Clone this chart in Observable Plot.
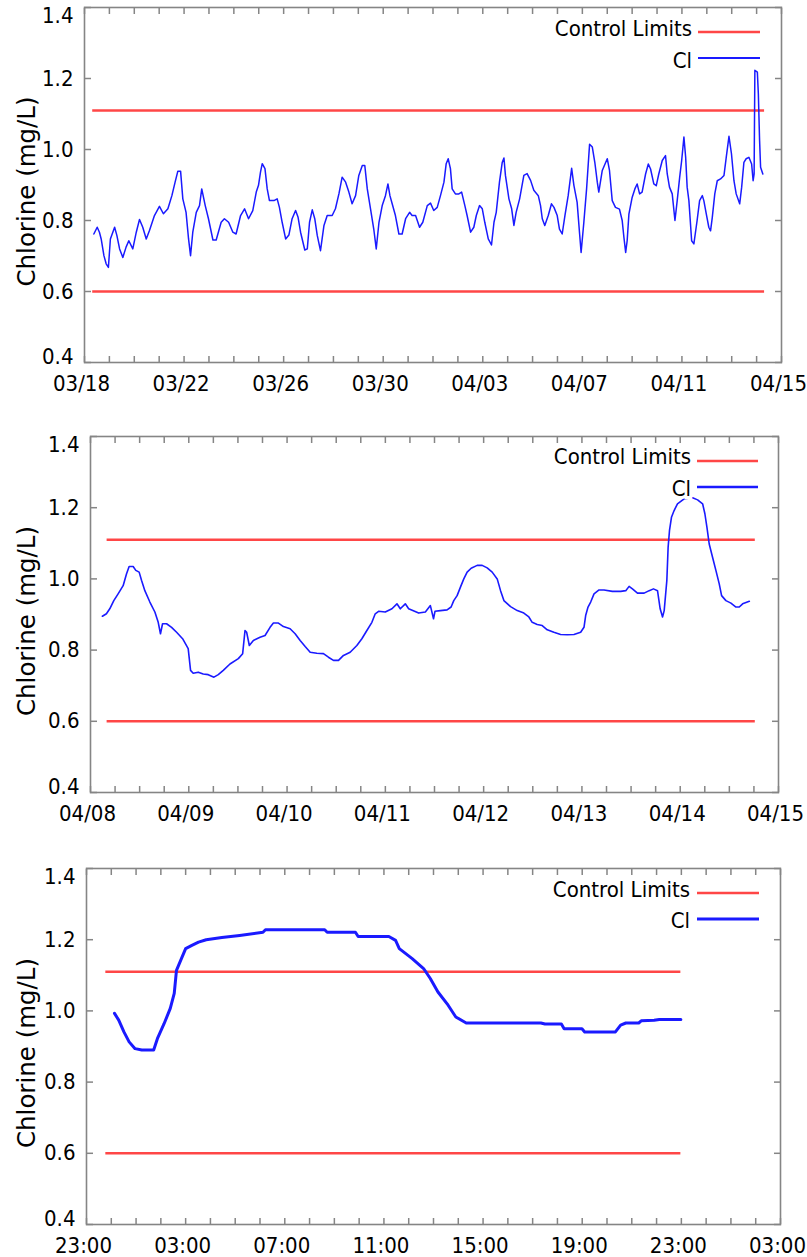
<!DOCTYPE html>
<html><head><meta charset="utf-8">
<script src="https://cdn.jsdelivr.net/npm/d3@7"></script>
<script src="https://cdn.jsdelivr.net/npm/@observablehq/plot@0.6"></script>
<style>
body{margin:0;background:#fff;}
#wrap{position:relative;width:807px;height:1257px;overflow:hidden;background:#fff}
.panel{position:absolute;left:0}
</style></head><body><div id="wrap"></div>
<script>
// ---------------- DATA ----------------
const controlLimits = [0.6, 1.11];
const yTickValues = [0.4, 0.6, 0.8, 1.0, 1.2, 1.4];
const legendLabels = ["Control Limits", "Cl"];

// Panel 1: days since 03/18, chlorine mg/L
const p1XLabels = ["03/18","03/22","03/26","03/30","04/03","04/07","04/11","04/15"];
const p1LimitSpan = [0.33, 27.32];
const p1Cl = [
[0.375,0.762],[0.51,0.781],[0.60,0.767],[0.67,0.748],[0.78,0.701],[0.87,0.678],[0.96,0.668],[1.04,0.748],[1.21,0.781],[1.30,0.758],[1.41,0.720],[1.54,0.696],[1.67,0.725],[1.78,0.743],[1.94,0.720],[2.08,0.767],[2.21,0.803],[2.34,0.781],[2.48,0.748],[2.61,0.772],[2.81,0.814],[3.01,0.840],[3.17,0.819],[3.35,0.833],[3.51,0.870],[3.64,0.908],[3.75,0.939],[3.86,0.939],[3.95,0.861],[4.08,0.823],[4.18,0.748],[4.26,0.701],[4.35,0.767],[4.49,0.823],[4.62,0.842],[4.71,0.889],[4.85,0.842],[4.98,0.805],[5.16,0.745],[5.29,0.745],[5.49,0.795],[5.62,0.805],[5.79,0.795],[5.96,0.767],[6.09,0.762],[6.27,0.814],[6.43,0.833],[6.59,0.805],[6.76,0.828],[6.90,0.880],[6.99,0.899],[7.07,0.936],[7.14,0.960],[7.25,0.946],[7.34,0.889],[7.43,0.856],[7.61,0.856],[7.74,0.861],[7.83,0.837],[7.94,0.795],[8.08,0.748],[8.21,0.759],[8.34,0.805],[8.48,0.828],[8.58,0.809],[8.68,0.767],[8.85,0.717],[8.95,0.720],[9.04,0.795],[9.15,0.830],[9.25,0.805],[9.35,0.758],[9.48,0.715],[9.62,0.786],[9.75,0.814],[9.95,0.814],[10.08,0.833],[10.22,0.875],[10.35,0.922],[10.49,0.908],[10.62,0.880],[10.75,0.847],[10.89,0.870],[11.02,0.927],[11.16,0.955],[11.26,0.955],[11.36,0.889],[11.49,0.833],[11.62,0.776],[11.72,0.720],[11.83,0.795],[11.96,0.842],[12.09,0.870],[12.19,0.903],[12.27,0.870],[12.36,0.847],[12.49,0.814],[12.63,0.762],[12.76,0.762],[12.90,0.805],[13.06,0.823],[13.16,0.814],[13.30,0.814],[13.46,0.781],[13.59,0.795],[13.77,0.842],[13.90,0.849],[14.03,0.828],[14.17,0.837],[14.30,0.870],[14.44,0.908],[14.53,0.960],[14.61,0.974],[14.70,0.946],[14.77,0.889],[14.90,0.875],[15.04,0.875],[15.15,0.880],[15.28,0.842],[15.37,0.814],[15.51,0.767],[15.64,0.781],[15.74,0.814],[15.87,0.842],[15.98,0.833],[16.08,0.795],[16.22,0.748],[16.35,0.731],[16.45,0.795],[16.54,0.823],[16.67,0.908],[16.78,0.963],[16.85,0.976],[16.91,0.927],[17.05,0.861],[17.16,0.833],[17.25,0.786],[17.34,0.823],[17.48,0.861],[17.65,0.927],[17.78,0.932],[17.92,0.913],[18.05,0.885],[18.23,0.870],[18.32,0.842],[18.39,0.805],[18.49,0.786],[18.63,0.814],[18.76,0.847],[18.86,0.837],[18.99,0.814],[19.08,0.776],[19.19,0.762],[19.30,0.814],[19.43,0.870],[19.57,0.947],[19.66,0.899],[19.79,0.851],[19.89,0.762],[19.95,0.710],[20.06,0.795],[20.17,0.889],[20.29,1.015],[20.40,1.007],[20.50,0.964],[20.60,0.908],[20.66,0.880],[20.80,0.941],[21.00,0.974],[21.09,0.941],[21.20,0.856],[21.33,0.837],[21.49,0.832],[21.60,0.800],[21.67,0.752],[21.74,0.710],[21.80,0.743],[21.87,0.818],[22.00,0.865],[22.11,0.889],[22.20,0.903],[22.30,0.875],[22.40,0.880],[22.54,0.931],[22.65,0.959],[22.74,0.945],[22.87,0.903],[22.97,0.898],[23.07,0.931],[23.21,0.969],[23.34,0.983],[23.41,0.931],[23.50,0.894],[23.61,0.875],[23.72,0.800],[23.81,0.856],[23.91,0.922],[23.99,0.969],[24.08,1.035],[24.15,0.978],[24.21,0.894],[24.28,0.856],[24.39,0.743],[24.48,0.734],[24.61,0.800],[24.71,0.856],[24.82,0.870],[24.88,0.856],[24.98,0.818],[25.08,0.781],[25.15,0.771],[25.22,0.809],[25.32,0.875],[25.42,0.912],[25.55,0.917],[25.69,0.927],[25.78,0.978],[25.89,1.037],[25.99,0.988],[26.09,0.912],[26.18,0.875],[26.32,0.847],[26.40,0.894],[26.49,0.964],[26.58,0.974],[26.69,0.978],[26.80,0.959],[26.86,0.912],[26.90,0.931],[26.93,1.223],[27.03,1.218],[27.07,1.157],[27.12,1.025],[27.16,0.950],[27.25,0.931]
];

// Panel 2: days since 04/08
const p2XLabels = ["04/08","04/09","04/10","04/11","04/12","04/13","04/14","04/15"];
const p2LimitSpan = [0.169, 6.764];
const p2Cl = [
[0.121,0.895],[0.162,0.902],[0.196,0.916],[0.237,0.939],[0.281,0.958],[0.332,0.981],[0.366,1.014],[0.393,1.035],[0.434,1.035],[0.461,1.024],[0.495,1.019],[0.519,0.996],[0.553,0.967],[0.604,0.935],[0.655,0.907],[0.689,0.878],[0.712,0.846],[0.733,0.874],[0.774,0.874],[0.825,0.864],[0.876,0.850],[0.937,0.832],[0.994,0.804],[1.018,0.743],[1.045,0.735],[1.096,0.738],[1.147,0.733],[1.198,0.731],[1.256,0.724],[1.300,0.731],[1.351,0.743],[1.419,0.761],[1.504,0.776],[1.548,0.790],[1.572,0.855],[1.589,0.850],[1.616,0.813],[1.657,0.827],[1.725,0.836],[1.776,0.841],[1.827,0.864],[1.861,0.876],[1.912,0.876],[1.963,0.866],[2.031,0.860],[2.082,0.846],[2.133,0.827],[2.184,0.810],[2.235,0.794],[2.303,0.791],[2.370,0.790],[2.421,0.780],[2.472,0.771],[2.523,0.771],[2.574,0.785],[2.642,0.794],[2.710,0.813],[2.761,0.832],[2.812,0.855],[2.863,0.878],[2.897,0.902],[2.931,0.909],[2.999,0.907],[3.067,0.916],[3.118,0.930],[3.152,0.916],[3.203,0.930],[3.237,0.916],[3.339,0.904],[3.407,0.907],[3.458,0.925],[3.490,0.888],[3.505,0.909],[3.560,0.911],[3.628,0.913],[3.669,0.921],[3.696,0.939],[3.730,0.953],[3.764,0.977],[3.798,1.000],[3.832,1.019],[3.873,1.030],[3.934,1.038],[3.985,1.038],[4.036,1.031],[4.087,1.019],[4.138,1.000],[4.172,0.967],[4.206,0.939],[4.274,0.922],[4.342,0.911],[4.409,0.904],[4.460,0.893],[4.494,0.878],[4.545,0.872],[4.596,0.869],[4.647,0.857],[4.715,0.850],[4.783,0.844],[4.851,0.843],[4.919,0.844],[4.987,0.850],[5.021,0.864],[5.038,0.897],[5.062,0.921],[5.089,0.935],[5.123,0.958],[5.174,0.969],[5.225,0.969],[5.310,0.965],[5.395,0.965],[5.446,0.967],[5.480,0.979],[5.514,0.972],[5.565,0.960],[5.633,0.960],[5.684,0.967],[5.728,0.972],[5.769,0.967],[5.796,0.916],[5.820,0.893],[5.837,0.911],[5.864,0.996],[5.877,1.089],[5.891,1.136],[5.911,1.173],[5.938,1.192],[5.972,1.211],[6.040,1.225],[6.126,1.228],[6.177,1.222],[6.228,1.211],[6.251,1.183],[6.272,1.145],[6.295,1.098],[6.329,1.061],[6.363,1.024],[6.397,0.986],[6.421,0.953],[6.465,0.939],[6.516,0.932],[6.567,0.921],[6.601,0.921],[6.635,0.930],[6.703,0.937]
];

// Panel 3: hours since 23:00
const p3XLabels = ["23:00","03:00","07:00","11:00","15:00","19:00","23:00","03:00"];
const p3LimitSpan = [0.78, 23.98];
const p3Cl = [
[1.13,0.993],[1.30,0.974],[1.51,0.941],[1.72,0.913],[1.96,0.894],[2.23,0.890],[2.71,0.890],[2.86,0.922],[3.13,0.964],[3.38,1.007],[3.54,1.049],[3.63,1.114],[3.80,1.142],[4.00,1.175],[4.25,1.184],[4.52,1.193],[4.83,1.200],[5.46,1.206],[6.18,1.212],[7.12,1.221],[7.22,1.228],[9.61,1.228],[9.71,1.221],[10.85,1.221],[10.96,1.209],[12.20,1.209],[12.47,1.198],[12.62,1.175],[13.14,1.147],[13.60,1.119],[13.87,1.091],[14.18,1.053],[14.59,1.016],[14.90,0.983],[15.32,0.966],[18.33,0.966],[18.50,0.963],[19.16,0.963],[19.27,0.950],[19.99,0.950],[20.10,0.941],[21.34,0.941],[21.55,0.960],[21.76,0.966],[22.28,0.966],[22.38,0.972],[22.90,0.974],[23.11,0.976],[23.98,0.976]
];

// ---------------- STYLE ----------------
const RED = "#ff4646", BLUE = "#1a1aff", FRAME = "#858585";
const COND = "'DejaVu Sans Condensed','Liberation Sans Narrow','Roboto Condensed','Open Sans',sans-serif";
const TITLEFONT = "'DejaVu Sans',Verdana,sans-serif";
const DAY = 864e5, HOUR = 36e5;

const panels = [
  {top:0, height:400, ml:84, mr:26, mt:7, mb:38, start:Date.UTC(2015,2,18), unit:DAY, xEnd:28,
   labels:p1XLabels, labelStep:4, tickStep:1, series:p1Cl, span:p1LimitSpan, lw:1.5, legLw:2.2,
   leg:{textX:692, cl:28, red:32, cl2:60, blue:58, x1:698, x2:760}},
  {top:415, height:420, ml:90, mr:29, mt:21, mb:43, start:Date.UTC(2015,3,8), unit:DAY, xEnd:7,
   labels:p2XLabels, labelStep:1, tickStep:0.25, series:p2Cl, span:p2LimitSpan, lw:1.6, legLw:2.4,
   leg:{textX:691, cl:41, red:46, cl2:73, blue:72, x1:697, x2:758}},
  {top:845, height:412, ml:86, mr:27, mt:23, mb:33, start:Date.UTC(2015,3,13,23), unit:HOUR, xEnd:28,
   labels:p3XLabels, labelStep:4, tickStep:1, series:p3Cl, span:p3LimitSpan, lw:3, legLw:3,
   leg:{textX:690, cl:44, red:48, cl2:75, blue:74, x1:697, x2:759}}
];

const wrap = document.getElementById("wrap");
for (const p of panels) {
  const toDate = u => new Date(p.start + u * p.unit);
  const data = p.series.map(([u, v]) => ({t: toDate(u), v}));
  const labelTicks = p.labels.map((s, i) => toDate(i * p.labelStep));
  const labelMap = new Map(labelTicks.map((d, i) => [+d, p.labels[i]]));
  const minor = d3.range(0, p.xEnd + 1e-9, p.tickStep).map(toDate);
  const midY = yTickValues.filter(v => v > 0.45 && v < 1.35);
  const blank = () => "";
  const x1 = toDate(p.span[0]), x2 = toDate(p.span[1]);
  const chart = Plot.plot({
    width: 807, height: p.height,
    marginLeft: p.ml, marginRight: p.mr, marginTop: p.mt, marginBottom: p.mb,
    style: {fontFamily: COND, fontSize: "22px", fontStretch: "condensed", color: "#000", background: "transparent", overflow: "visible"},
    x: {type: "utc", domain: [toDate(0), toDate(p.xEnd)]},
    y: {domain: [0.4, 1.4]},
    marks: [
      Plot.ruleY(controlLimits, {x1: () => x1, x2: () => x2, stroke: RED, strokeWidth: 2.6}),
      Plot.line(data, {x: "t", y: "v", stroke: BLUE, strokeWidth: p.lw, strokeLinejoin: "round"}),
      Plot.axisX({anchor: "bottom", ticks: minor, tickSize: -6, tickFormat: blank, label: null, stroke: FRAME, strokeWidth: 1.5}),
      Plot.axisX({anchor: "top", ticks: minor, tickSize: -6, tickFormat: blank, label: null, stroke: FRAME, strokeWidth: 1.5}),
      Plot.axisX({anchor: "bottom", ticks: labelTicks, tickSize: 0, tickPadding: 13, dx: -3, tickFormat: d => labelMap.get(+d), label: null, fill: "#000"}),
      Plot.axisY({anchor: "left", ticks: yTickValues, tickSize: -7, tickFormat: blank, label: null, stroke: FRAME, strokeWidth: 1.5}),
      Plot.axisY({anchor: "right", ticks: yTickValues, tickSize: -7, tickFormat: blank, label: null, stroke: FRAME, strokeWidth: 1.5}),
      Plot.axisY({anchor: "left", ticks: midY, tickSize: 0, tickPadding: 11, tickFormat: d3.format(".1f"), label: null, fill: "#000"}),
      Plot.axisY({anchor: "left", ticks: [1.4], tickSize: 0, tickPadding: 11, dy: 8, tickFormat: d3.format(".1f"), label: null, fill: "#000"}),
      Plot.axisY({anchor: "left", ticks: [0.4], tickSize: 0, tickPadding: 11, dy: -6, tickFormat: d3.format(".1f"), label: null, fill: "#000"}),
      Plot.frame({stroke: FRAME, strokeWidth: 1.6})
    ]
  });
  chart.classList.add("panel");
  chart.style.top = p.top + "px";
  wrap.appendChild(chart);

  const svg = d3.select(chart);
  const frameMid = p.mt + (p.height - p.mt - p.mb) / 2 + 7;
  svg.append("text")
    .attr("transform", `translate(26,${frameMid}) rotate(-90)`)
    .attr("text-anchor", "middle").attr("dy", "0.35em")
    .style("font-family", TITLEFONT).style("font-size", "24.5px").style("font-stretch", "normal")
    .attr("fill", "#000").text("Chlorine (mg/L)");
  const g = svg.append("g").style("font-family", COND).style("font-size", "22px");
  const L = p.leg;
  g.append("line").attr("x1", L.x1).attr("x2", L.x2).attr("y1", L.red).attr("y2", L.red).attr("stroke", RED).attr("stroke-width", 2.6);
  g.append("line").attr("x1", L.x1).attr("x2", L.x2).attr("y1", L.blue).attr("y2", L.blue).attr("stroke", BLUE).attr("stroke-width", p.legLw);
  g.append("text").attr("x", L.textX).attr("y", L.cl).attr("dy", "0.35em").attr("text-anchor", "end").attr("fill", "#000")
    .attr("stroke", "#fff").attr("stroke-width", 5).attr("paint-order", "stroke").text(legendLabels[0]);
  g.append("text").attr("x", L.textX).attr("y", L.cl2).attr("dy", "0.35em").attr("text-anchor", "end").attr("fill", "#000")
    .attr("stroke", "#fff").attr("stroke-width", 6).attr("paint-order", "stroke").text(legendLabels[1]);
}
</script></body></html>
